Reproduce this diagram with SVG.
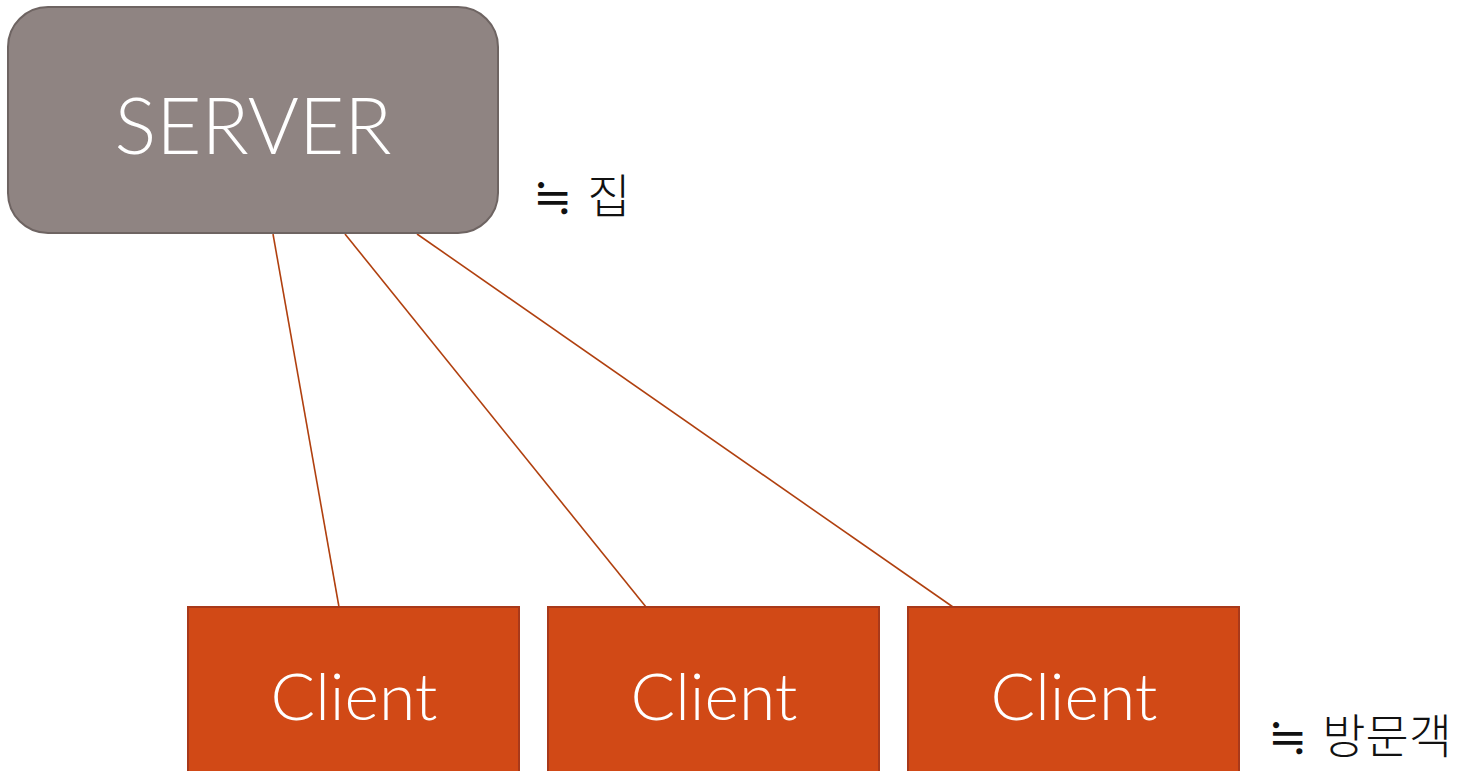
<svg xmlns="http://www.w3.org/2000/svg" width="1477" height="771" viewBox="0 0 1477 771">
<style>
.client rect{fill:#d14916;stroke:#a8391a;stroke-width:2}
.lbl{fill:#ffffff;font-family:Lato,"Liberation Sans",sans-serif;font-weight:300;text-anchor:middle}
.note{fill:#111111;font-family:"DejaVu Serif","Noto Sans CJK KR",serif;font-weight:300;font-size:47px}
.ko{font-family:"Noto Sans CJK KR",sans-serif;font-weight:300}
.conn line{stroke:#b0400f;stroke-width:1.6}
</style>
<rect width="1477" height="771" fill="#ffffff"/>
<g id="connectors" class="conn">
<line x1="273" y1="234" x2="339" y2="607"/>
<line x1="345" y1="234" x2="646" y2="607"/>
<line x1="417" y1="234" x2="953" y2="607"/>
</g>
<g id="server">
<rect x="8" y="7" width="490" height="226" rx="40" ry="40" fill="#8f8482" stroke="#6e6462" stroke-width="2"/>
<text class="lbl" x="253" y="154" font-size="78">SERVER</text>
</g>
<g id="client1" class="client">
<rect x="188" y="607" width="331" height="180"/>
<text class="lbl" x="354" y="720" font-size="66">Client</text>
</g>
<g id="client2" class="client">
<rect x="548" y="607" width="331" height="180"/>
<text class="lbl" x="714" y="720" font-size="66">Client</text>
</g>
<g id="client3" class="client">
<rect x="908" y="607" width="331" height="180"/>
<text class="lbl" x="1074" y="720" font-size="66">Client</text>
</g>
<g id="note-server">
<text class="note" x="533" y="213">≒ <tspan class="ko">집</tspan></text>
</g>
<g id="note-client">
<text class="note" x="1268" y="753">≒ <tspan class="ko">방문객</tspan></text>
</g>
</svg>
